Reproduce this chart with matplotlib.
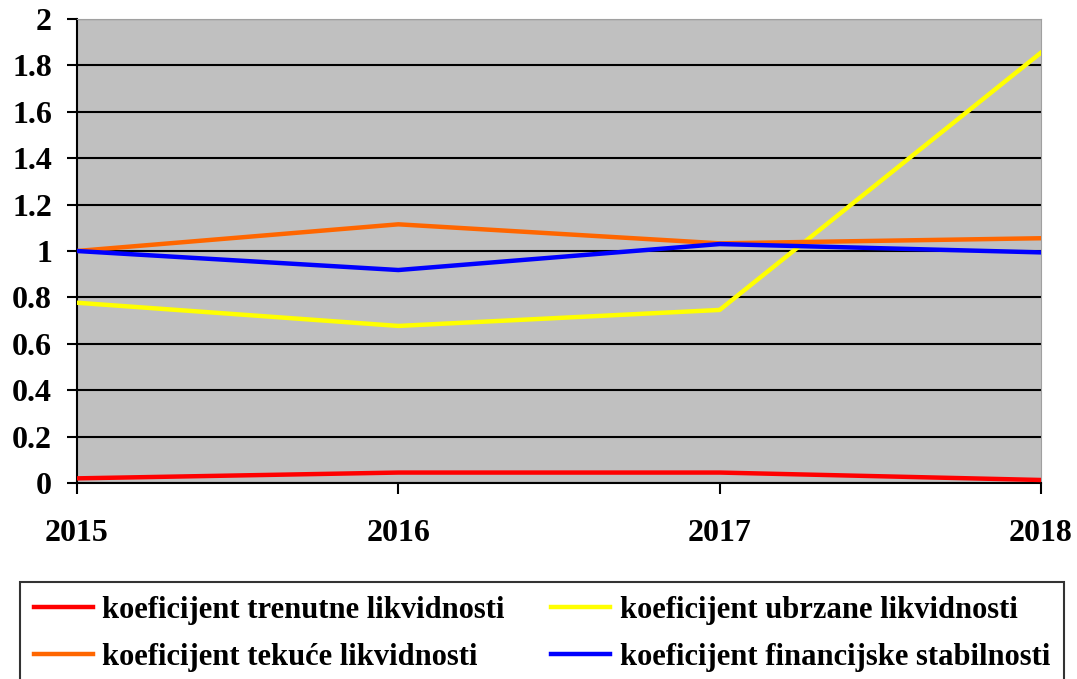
import matplotlib

matplotlib.use("Agg")
import matplotlib.pyplot as plt  # noqa: E402
from matplotlib.ticker import FixedLocator  # noqa: E402

years = ["2015", "2016", "2017", "2018"]
trenutne = [0.02, 0.045, 0.045, 0.013]
ubrzane = [0.777, 0.677, 0.746, 1.855]
tekuce = [1.0, 1.115, 1.033, 1.055]
stabilnost = [1.0, 0.918, 1.03, 0.994]

labels = [
    "koeficijent trenutne likvidnosti",
    "koeficijent ubrzane likvidnosti",
    "koeficijent tekuće likvidnosti",
    "koeficijent financijske stabilnosti",
]
y_ticks = [0, 0.2, 0.4, 0.6, 0.8, 1, 1.2, 1.4, 1.6, 1.8, 2]
y_tick_labels = ["0", "0.2", "0.4", "0.6", "0.8", "1", "1.2", "1.4", "1.6", "1.8", "2"]

plt.rcParams["font.family"] = ["Liberation Serif", "DejaVu Serif"]
plt.rcParams["font.weight"] = "bold"

fig = plt.figure(figsize=(10.77, 6.79), dpi=100)
ax = fig.add_axes([77 / 1077, 1 - 483 / 679, (1041 - 77) / 1077, (483 - 19) / 679])
ax.set_facecolor("#c0c0c0")

x = list(range(len(years)))
lw = 3.2
ax.plot(x, trenutne, color="#ff0000", lw=lw, label=labels[0], zorder=3)
ax.plot(x, ubrzane, color="#ffff00", lw=lw, label=labels[1], zorder=3)
ax.plot(x, tekuce, color="#ff6600", lw=lw, label=labels[2], zorder=3)
ax.plot(x, stabilnost, color="#0000ff", lw=lw, label=labels[3], zorder=3)

ax.set_xlim(0, 3)
ax.set_ylim(0, 2)
ax.yaxis.set_major_locator(FixedLocator(y_ticks))
ax.set_yticklabels(y_tick_labels, fontsize=23, fontweight="bold")
ax.set_xticks(x)
ax.set_xticklabels(years, fontsize=23, fontweight="bold")
ax.tick_params(axis="y", direction="out", length=7, width=1.5, pad=11)
ax.tick_params(axis="x", direction="out", length=8, width=1.5, pad=18)
ax.grid(axis="y", color="black", lw=1.5, zorder=1)

for side in ["top", "right"]:
    ax.spines[side].set_color("#a0a0a0")
for side in ["left", "bottom"]:
    ax.spines[side].set_color("black")
    ax.spines[side].set_linewidth(1.5)

# legenda em duas colunas abaixo do grafico
handles, labs = ax.get_legend_handles_labels()
order = [0, 2, 1, 3]
leg = fig.legend(
    [handles[i] for i in order],
    [labs[i] for i in order],
    loc="upper left",
    bbox_to_anchor=(20 / 1077, 1 - 582 / 679),
    ncol=2,
    frameon=True,
    fancybox=False,
    edgecolor="black",
    handlelength=1.95,
    handletextpad=0.3,
    columnspacing=1.5,
    labelspacing=0.6,
    borderaxespad=0,
    borderpad=0.45,
    prop={"weight": "bold", "size": 22},
)
leg.get_frame().set_linewidth(1.5)
for h in leg.get_lines():
    h.set_linewidth(3.2)

fig.savefig("out.png", dpi=100)
